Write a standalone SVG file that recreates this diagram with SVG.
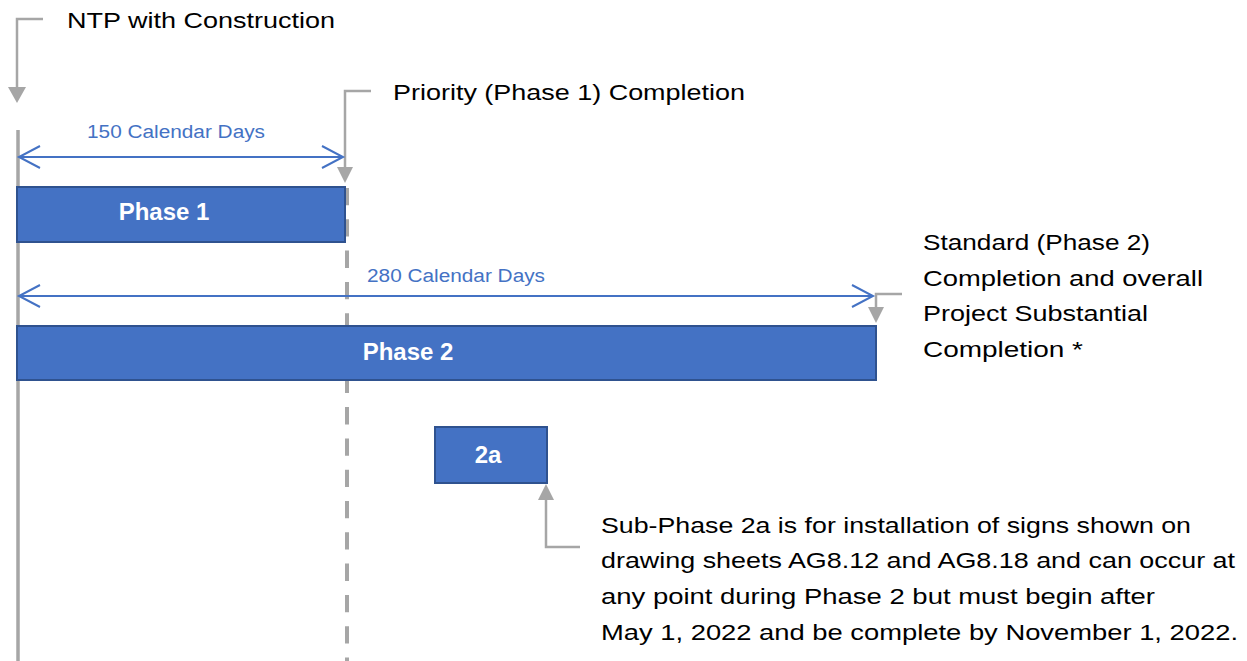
<svg xmlns="http://www.w3.org/2000/svg" width="1247" height="661" viewBox="0 0 1247 661">
<style>
.bar{fill:#4472c4;stroke:#2f528f;stroke-width:2}
.lbl{font-family:"Liberation Sans",Arial,sans-serif;font-weight:bold;font-size:24px;fill:#ffffff;text-anchor:middle}
.txt{font-family:"Liberation Sans",Arial,sans-serif;font-size:22px;fill:#000000}
.dur{font-family:"Liberation Sans",Arial,sans-serif;font-size:18px;fill:#4472c4}
.gl{fill:none;stroke:#a6a6a6;stroke-width:2.5}
.gh{fill:#a6a6a6}
.bl{fill:none;stroke:#4472c4;stroke-width:2}
</style>
<rect width="1247" height="661" fill="#ffffff"/>
<g id="connectors">
<line x1="18" y1="130" x2="18" y2="661" stroke="#a6a6a6" stroke-width="3.5"/>
<line x1="347" y1="188" x2="347" y2="661" stroke="#a6a6a6" stroke-width="4" stroke-dasharray="17.3 14"/>
<polyline class="gl" points="43,19 17,19 17,88"/>
<polygon class="gh" points="8,87 26,87 17,103"/>
<polyline class="gl" points="371,91 345,91 345,168"/>
<polygon class="gh" points="337,167 353,167 345,183"/>
<polyline class="gl" points="902,294 876,294 876,309"/>
<polygon class="gh" points="868,307 884,307 876,323"/>
<polyline class="gl" points="580,547 546,547 546,499"/>
<polygon class="gh" points="538,500 554,500 546,484"/>
<line class="bl" x1="19" y1="157" x2="343" y2="157"/>
<polyline class="bl" points="40,146 19,157 40,168"/>
<polyline class="bl" points="322,146 343,157 322,168"/>
<line class="bl" x1="19" y1="296" x2="873" y2="296"/>
<polyline class="bl" points="40,285 19,296 40,307"/>
<polyline class="bl" points="852,285 873,296 852,307"/>
</g>
<g id="phase1">
<rect class="bar" x="17" y="187" width="328" height="55"/>
<text class="lbl" x="164" y="220">Phase 1</text>
</g>
<g id="phase2">
<rect class="bar" x="17" y="326" width="859" height="54"/>
<text class="lbl" x="408" y="360">Phase 2</text>
</g>
<g id="phase2a">
<rect class="bar" x="435" y="427" width="112" height="56"/>
<text class="lbl" x="488" y="463">2a</text>
</g>
<g id="duration150">
<text class="dur" x="87" y="138" textLength="178" lengthAdjust="spacingAndGlyphs">150 Calendar Days</text>
</g>
<g id="duration280">
<text class="dur" x="367" y="282" textLength="178" lengthAdjust="spacingAndGlyphs">280 Calendar Days</text>
</g>
<g id="ntp">
<text class="txt" x="67" y="28" textLength="268" lengthAdjust="spacingAndGlyphs">NTP with Construction</text>
</g>
<g id="priority">
<text class="txt" x="393" y="100" textLength="352" lengthAdjust="spacingAndGlyphs">Priority (Phase 1) Completion</text>
</g>
<g id="standard">
<text class="txt" x="923" y="250" textLength="227" lengthAdjust="spacingAndGlyphs">Standard (Phase 2)</text>
<text class="txt" x="923" y="286" textLength="280" lengthAdjust="spacingAndGlyphs">Completion and overall</text>
<text class="txt" x="923" y="321" textLength="225" lengthAdjust="spacingAndGlyphs">Project Substantial</text>
<text class="txt" x="923" y="357" textLength="160" lengthAdjust="spacingAndGlyphs">Completion *</text>
</g>
<g id="subphase">
<text class="txt" x="601" y="533" textLength="590" lengthAdjust="spacingAndGlyphs">Sub-Phase 2a is for installation of signs shown on</text>
<text class="txt" x="601" y="568" textLength="634" lengthAdjust="spacingAndGlyphs">drawing sheets AG8.12 and AG8.18 and can occur at</text>
<text class="txt" x="601" y="604" textLength="554" lengthAdjust="spacingAndGlyphs">any point during Phase 2 but must begin after</text>
<text class="txt" x="601" y="640" textLength="637" lengthAdjust="spacingAndGlyphs">May 1, 2022 and be complete by November 1, 2022.</text>
</g>
</svg>
